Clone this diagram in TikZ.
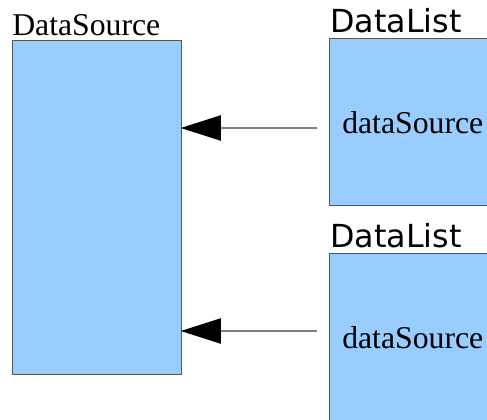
\documentclass[tikz,border=0pt]{standalone}
\usepackage{fontspec}
\setmainfont{Liberation Serif}
\newfontfamily\dlfont{DejaVu Sans}
\usetikzlibrary{arrows.meta,calc}
\definecolor{boxblue}{HTML}{99CCFF}
\definecolor{boxline}{HTML}{555555}

\begin{document}
\begin{tikzpicture}[x=0.75pt,y=-0.75pt,
  objbox/.style={draw=boxline, fill=boxblue, line width=0.9pt, anchor=north west, inner sep=0pt},
  lbl/.style={font=\fontsize{23.8}{28}\selectfont, anchor=base west, inner sep=0pt},
  link/.style={draw=gray, line width=0.8pt, shorten >=-1pt, -{Triangle[length=30pt,width=19pt,color=black]}}]
\useasboundingbox (0,0) rectangle (487,420);
\clip (0,0) rectangle (487,420);

% DataSource object
\node[objbox, minimum width=126.75pt, minimum height=250.5pt] (src) at (12,40) {};
\node[lbl] (srclbl) at (12,36) {DataSource};

% DataList objects
\node[objbox, minimum width=128.25pt, minimum height=125.25pt] (listA) at (329,38) {};
\node[lbl, font=\fontsize{23.8}{28}\selectfont\dlfont] (listAlbl) at (330,32.5) {DataList};
\node[lbl] (fieldA) at (342,134) {dataSource};

\node[objbox, minimum width=128.25pt, minimum height=132.75pt] (listB) at (329,253) {};
\node[lbl, font=\fontsize{23.8}{28}\selectfont\dlfont] (listBlbl) at (330,247.5) {DataList};
\node[lbl] (fieldB) at (342,349) {dataSource};

% references
\coordinate (refA) at (317,128);
\coordinate (refB) at (317,331);
\draw[link] (refA) -- (refA -| src.east);
\draw[link] (refB) -- (refB -| src.east);
\end{tikzpicture}
\end{document}
